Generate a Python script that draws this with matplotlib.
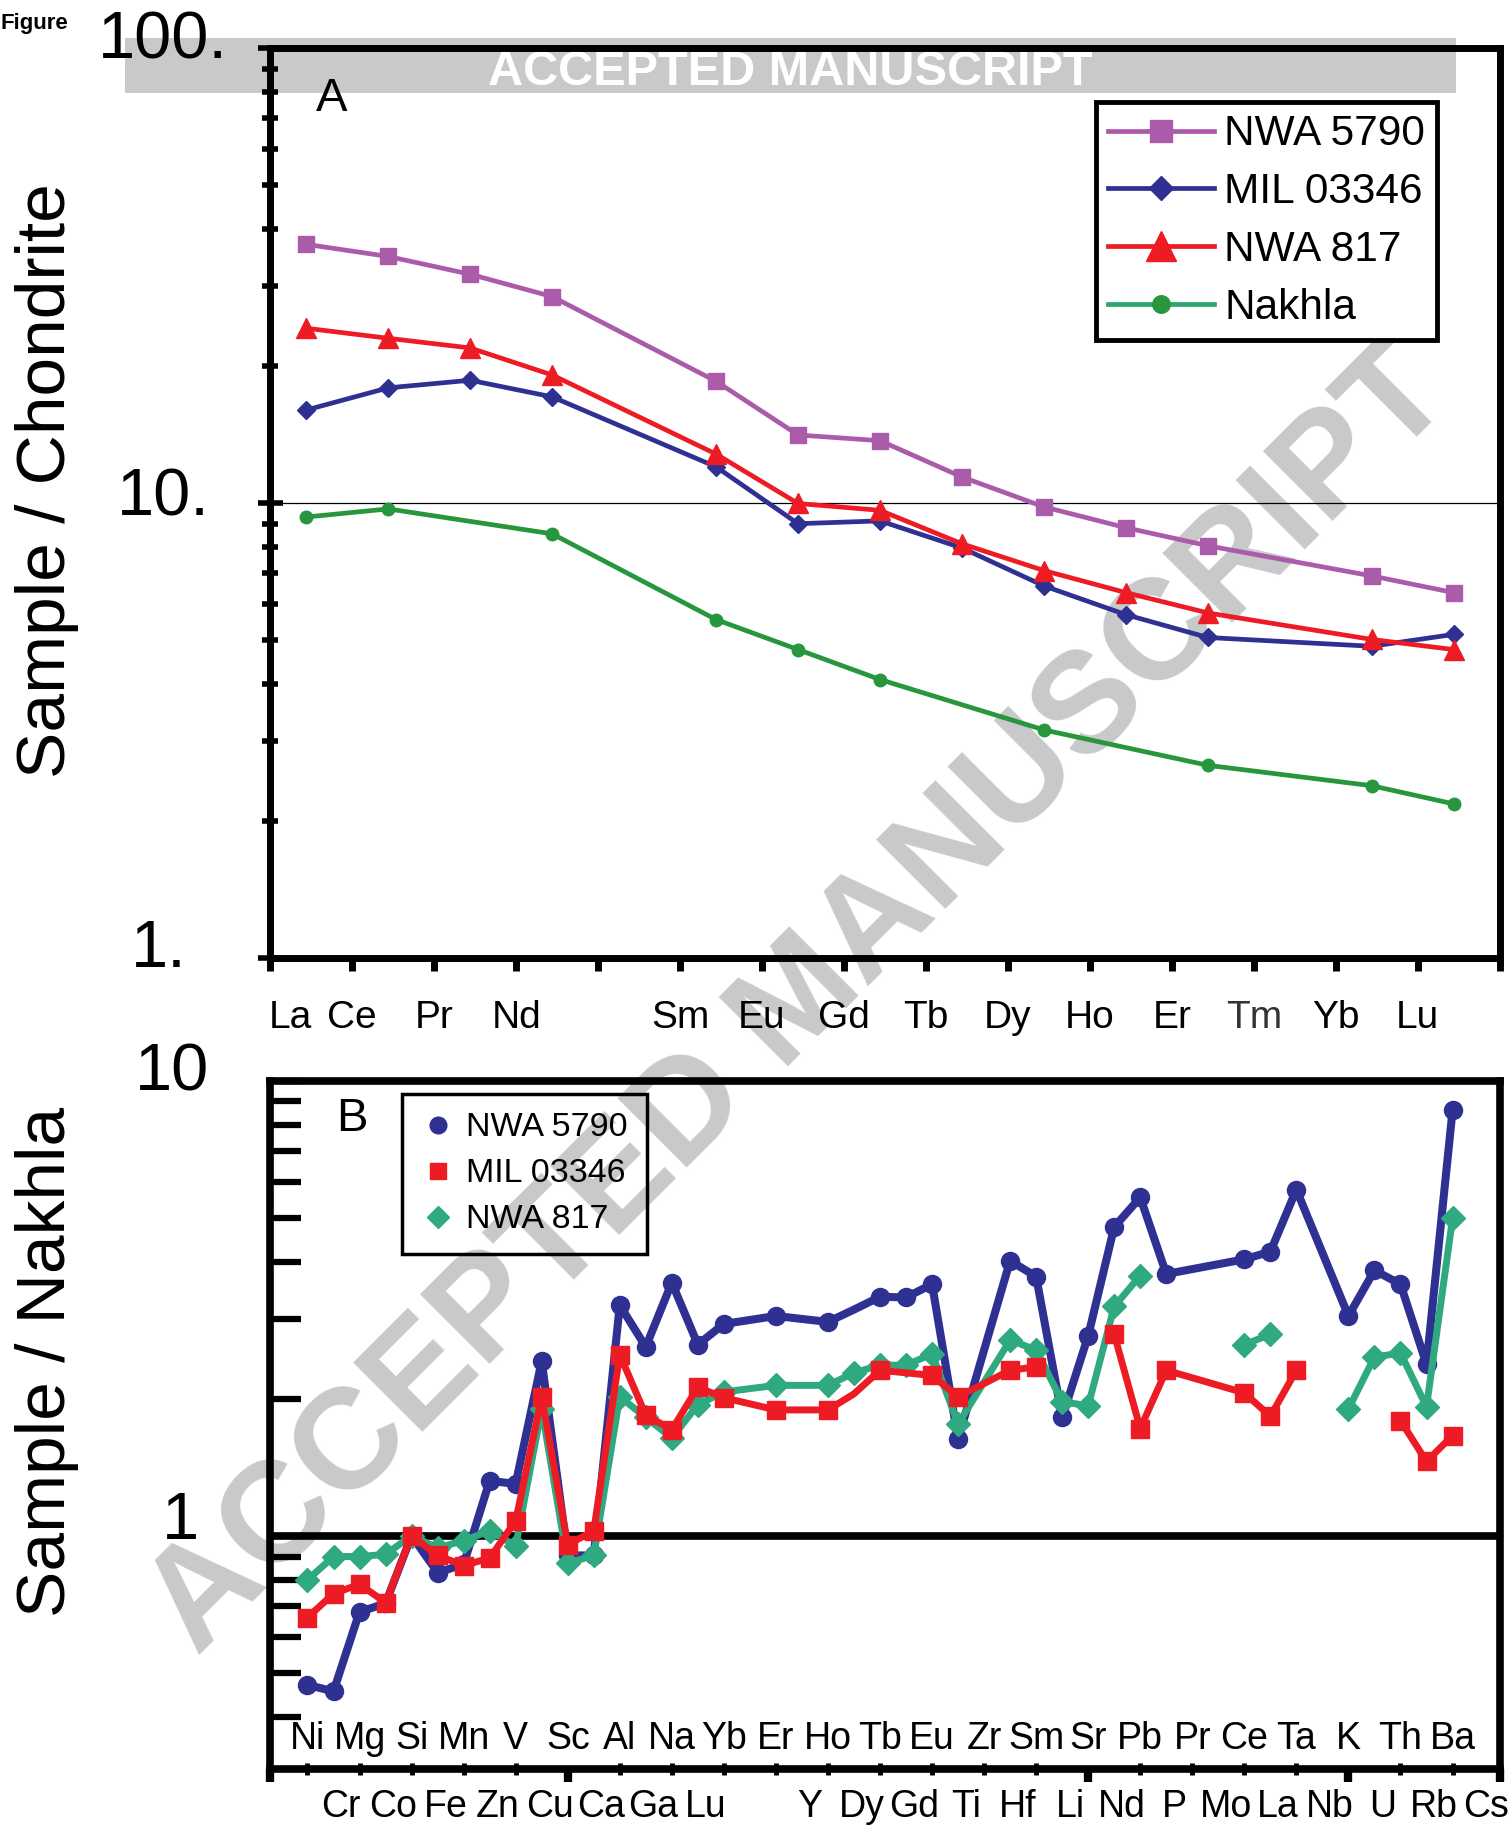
import numpy as np
import matplotlib
matplotlib.use('Agg')
import matplotlib.pyplot as plt
from matplotlib.lines import Line2D
from matplotlib.patches import Rectangle
import matplotlib.ticker as ticker

plt.rcParams['font.family'] = ['Liberation Sans', 'DejaVu Sans']

nan = np.nan

# ---- panel A: REE / chondrite ----
ree = ['La', 'Ce', 'Pr', 'Nd', 'Pm', 'Sm', 'Eu', 'Gd', 'Tb', 'Dy', 'Ho', 'Er', 'Tm', 'Yb', 'Lu']
ree_labels = ['La', 'Ce', 'Pr', 'Nd', '', 'Sm', 'Eu', 'Gd', 'Tb', 'Dy', 'Ho', 'Er', 'Tm', 'Yb', 'Lu']
nwa5790_a = [37.0, 34.8, 31.8, 28.4, nan, 18.5, 14.1, 13.7, 11.4, 9.80, 8.82, 8.05, nan, 6.91, 6.35]
mil03346_a = [16.0, 17.9, 18.6, 17.1, nan, 12.0, 9.00, 9.13, 7.96, 6.57, 5.68, 5.06, nan, 4.84, 5.14]
nwa817_a = [24.2, 23.0, 21.9, 19.1, nan, 12.8, 9.97, 9.63, 8.13, 7.10, 6.35, 5.73, nan, 5.01, 4.76]
nakhla_a = [9.31, 9.70, nan, 8.55, nan, 5.54, 4.76, 4.09, nan, 3.17, nan, 2.65, nan, 2.39, 2.18]

# ---- panel B: sample / Nakhla ----
elements_b = ['Ni', 'Cr', 'Mg', 'Co', 'Si', 'Fe', 'Mn', 'Zn', 'V', 'Cu', 'Sc', 'Ca', 'Al', 'Ga',
              'Na', 'Lu', 'Yb', '', 'Er', 'Y', 'Ho', 'Dy', 'Tb', 'Gd', 'Eu', 'Ti', 'Zr', 'Hf',
              'Sm', 'Li', 'Sr', 'Nd', 'Pb', 'P', 'Pr', 'Mo', 'Ce', 'La', 'Ta', 'Nb', 'K', 'U',
              'Th', 'Rb', 'Ba', 'Cs']
nwa5790_b = [0.47, 0.455, 0.68, 0.71, 1.0, 0.83, 0.865, 1.32, 1.30, 2.42, 0.905, 0.905, 3.21, 2.60,
             3.60, 2.63, 2.92, nan, 3.04, nan, 2.95, 3.14, 3.35, 3.34, 3.57, 1.63, nan, 4.02,
             3.71, 1.82, 2.75, 4.77, 5.54, 3.76, nan, nan, 4.05, 4.21, 5.76, nan, 3.04, 3.83,
             3.57, 2.38, 8.6, nan]
mil03346_b = [0.661, 0.746, 0.782, 0.713, 1.0, 0.905, 0.86, 0.893, 1.078, 2.02, 0.956, 1.025, 2.50, 1.84,
              1.71, 2.12, 2.01, nan, 1.89, nan, 1.89, 2.05, 2.31, nan, 2.25, 2.02, nan, 2.31,
              2.35, nan, nan, 2.77, 1.72, 2.31, nan, nan, 2.06, 1.83, 2.31, nan, nan, nan,
              1.79, 1.456, 1.66, nan]
nwa817_b = [0.80, 0.90, 0.90, 0.91, 1.0, 0.94, 0.975, 1.025, 0.95, 1.90, 0.87, 0.905, 2.02, 1.82,
            1.64, 1.94, 2.07, nan, 2.14, nan, 2.14, 2.28, 2.37, 2.37, 2.51, 1.76, nan, 2.69,
            2.56, 1.97, 1.93, 3.19, 3.73, nan, nan, nan, 2.63, 2.77, nan, nan, 1.90, 2.47,
            2.52, 1.92, 4.98, nan]
# line is not drawn across these gaps (index of last point before the gap)
mil03346_breaks = [28, 38]
nwa817_breaks = [32, 37]
# points on the line with no marker drawn
nwa5790_nomark = [21]
mil03346_nomark = [21]

PURPLE = '#AA5BAA'
NAVY = '#2E3192'
RED = '#ED1C24'
GREEN_A = '#27963C'
GREEN_B = '#2FAA80'
GRAY = '#C8C9CB'

fig = plt.figure(figsize=(15.09, 18.27), dpi=100)

# watermark and banner behind everything
fig.patches.append(Rectangle((0.0826, 0.949), 0.8826, 0.0300, transform=fig.transFigure,
                             facecolor=GRAY, edgecolor='none', zorder=-3))
fig.text(0.5235, 0.9605, 'ACCEPTED MANUSCRIPT', ha='center', va='center', fontsize=35,
         fontweight='bold', color='white', zorder=-2)
fig.text(0.5305, 0.4516, 'ACCEPTED MANUSCRIPT', rotation=45, rotation_mode='anchor',
         ha='center', va='center', fontsize=103, fontweight='bold', color=GRAY, zorder=-2)
fig.text(0.0, 0.987, 'Figure', ha='left', va='center', fontsize=16, fontweight='bold')

# ================= panel A =================
axA = fig.add_axes([0.1791, 0.4757, 0.8147, 0.4981])
axA.set_facecolor('none')
axA.set_yscale('log')
axA.set_ylim(1, 100)
axA.set_xlim(0, 15)
xa = np.arange(len(ree)) + 0.44

series_a = [(nwa5790_a, 'NWA 5790', PURPLE, 's', 11),
            (mil03346_a, 'MIL 03346', NAVY, 'D', 9),
            (nwa817_a, 'NWA 817', RED, '^', 15),
            (nakhla_a, 'Nakhla', GREEN_A, 'o', 9)]
handles_a = []
for vals, name, col, mk, ms in series_a:
    v = np.array(vals, float)
    ok = ~np.isnan(v)
    ln, = axA.plot(xa[ok], v[ok], color=col, lw=3.4, marker=mk, ms=ms, mec=col, label=name)
    handles_a.append(ln)
handles_a[3] = Line2D([], [], color='#2CA66E', lw=3.4, marker='o', ms=9, mfc=GREEN_A, mec=GREEN_A)

axA.axhline(10, color='black', lw=0.9, zorder=1)

for sp in axA.spines.values():
    sp.set_linewidth(5)
axA.yaxis.set_major_locator(ticker.LogLocator(base=10))
axA.yaxis.set_minor_locator(ticker.LogLocator(base=10, subs=np.arange(2, 10)))
axA.yaxis.set_major_formatter(ticker.NullFormatter())
axA.yaxis.set_minor_formatter(ticker.NullFormatter())
axA.tick_params(axis='y', which='major', direction='inout', length=18, width=4)
axA.tick_params(axis='y', which='minor', direction='inout', length=11, width=4)
axA.set_xticks(np.arange(16))
axA.set_xticklabels([])
axA.tick_params(axis='x', which='major', direction='out', length=9, width=5)

for txt, xx, yy in [('100.', -0.0873, 1.0075), ('10.', -0.0873, 0.5045), ('1.', -0.091, 0.009)]:
    axA.text(xx, yy, txt, transform=axA.transAxes, ha='center', va='center', fontsize=48)

for i, name in enumerate(ree_labels):
    if not name:
        continue
    xx = 0.25 if i == 0 else i
    axA.text(xx, -0.066, name, transform=axA.get_xaxis_transform(), ha='center', va='center',
             fontsize=28, color='#333333' if name == 'Tm' else 'black')

axA.text(0.05, 0.944, 'A', transform=axA.transAxes, ha='center', va='center', fontsize=34)

legA = axA.legend(handles_a, [s[1] for s in series_a], loc='upper right',
                  bbox_to_anchor=(0.949, 0.94), fontsize=30.5, handlelength=2.5,
                  handletextpad=0.25, labelspacing=0.42, borderpad=0.28, borderaxespad=0,
                  markerscale=1.4, fancybox=False, edgecolor='black', facecolor='white',
                  framealpha=1)
legA.get_frame().set_linewidth(3.5)

# ================= panel B =================
axB = fig.add_axes([0.1791, 0.0317, 0.8147, 0.3768])
axB.set_facecolor('none')
axB.set_yscale('log')
axB.set_ylim(0.307, 10)
axB.set_xlim(-1.43, 45.81)
xb = np.arange(len(elements_b))


def draw_series(ax, vals, breaks, nomark, color, marker, ms, lw, z):
    v = np.array(vals, float)
    start = 0
    for stop in list(breaks) + [len(v) - 1]:
        seg = [i for i in range(start, stop + 1) if not np.isnan(v[i])]
        ax.plot(xb[seg], v[seg], color=color, lw=lw, solid_joinstyle='round', zorder=z)
        start = stop + 1
    pts = [i for i in range(len(v)) if not np.isnan(v[i]) and i not in nomark]
    ax.plot(xb[pts], v[pts], ls='none', marker=marker, ms=ms, color=color, mec=color, zorder=z + 0.1)


draw_series(axB, nwa5790_b, [], nwa5790_nomark, NAVY, 'o', 13, 5.8, 3)
draw_series(axB, nwa817_b, nwa817_breaks, [], GREEN_B, 'D', 12, 5.0, 4)
draw_series(axB, mil03346_b, mil03346_breaks, mil03346_nomark, RED, 's', 13, 5.0, 5)

axB.axhline(1, color='black', lw=5.5, zorder=2)

for sp in axB.spines.values():
    sp.set_linewidth(5.5)
axB.yaxis.set_major_locator(ticker.LogLocator(base=10))
axB.yaxis.set_minor_locator(ticker.LogLocator(base=10, subs=np.arange(2, 10)))
axB.yaxis.set_major_formatter(ticker.NullFormatter())
axB.yaxis.set_minor_formatter(ticker.NullFormatter())
axB.tick_params(axis='y', which='both', direction='in', length=22, width=4.5)
axB.set_xticks([-1.43, 10, 30, 40, 45.81])
axB.set_xticks(np.arange(0, 45, 2), minor=True)
axB.set_xticklabels([])
axB.tick_params(axis='x', which='major', direction='out', length=9, width=6)
axB.tick_params(axis='x', which='minor', direction='inout', length=8, width=3.5)

axB.text(-0.0796, 1.0097, '10', transform=axB.transAxes, ha='center', va='center', fontsize=48)
axB.text(-0.073, 0.359, '1', transform=axB.transAxes, ha='center', va='center', fontsize=48)

for i, name in enumerate(elements_b):
    if not name:
        continue
    if i % 2 == 0:
        axB.text(i, 0.044, name, transform=axB.get_xaxis_transform(), ha='center', va='center',
                 fontsize=27)
    else:
        axB.text(i + 0.3, -0.055, name, transform=axB.get_xaxis_transform(), ha='center',
                 va='center', fontsize=27, clip_on=False)

axB.text(0.066, 0.945, 'B', transform=axB.transAxes, ha='center', va='center', fontsize=34)

handles_b = [Line2D([], [], ls='none', marker='o', ms=12, color=NAVY),
             Line2D([], [], ls='none', marker='s', ms=12, color=RED),
             Line2D([], [], ls='none', marker='D', ms=11, color=GREEN_B)]
legB = axB.legend(handles_b, ['NWA 5790', 'MIL 03346', 'NWA 817'], loc='upper left',
                  bbox_to_anchor=(0.107, 0.981), fontsize=24.5, handlelength=1.0,
                  handletextpad=0.35, labelspacing=0.44, borderpad=0.55, borderaxespad=0,
                  fancybox=False, edgecolor='black', facecolor='none', framealpha=0)
legB.get_frame().set_linewidth(2.5)
legB.get_frame().set_alpha(None)
legB.get_frame().set_facecolor('none')

fig.text(0.031, 0.7367, 'Sample / Chondrite', rotation=90, ha='center', va='center', fontsize=50)
fig.text(0.031, 0.2545, 'Sample / Nakhla', rotation=90, ha='center', va='center', fontsize=50)

fig.savefig('out.png', dpi=100)
